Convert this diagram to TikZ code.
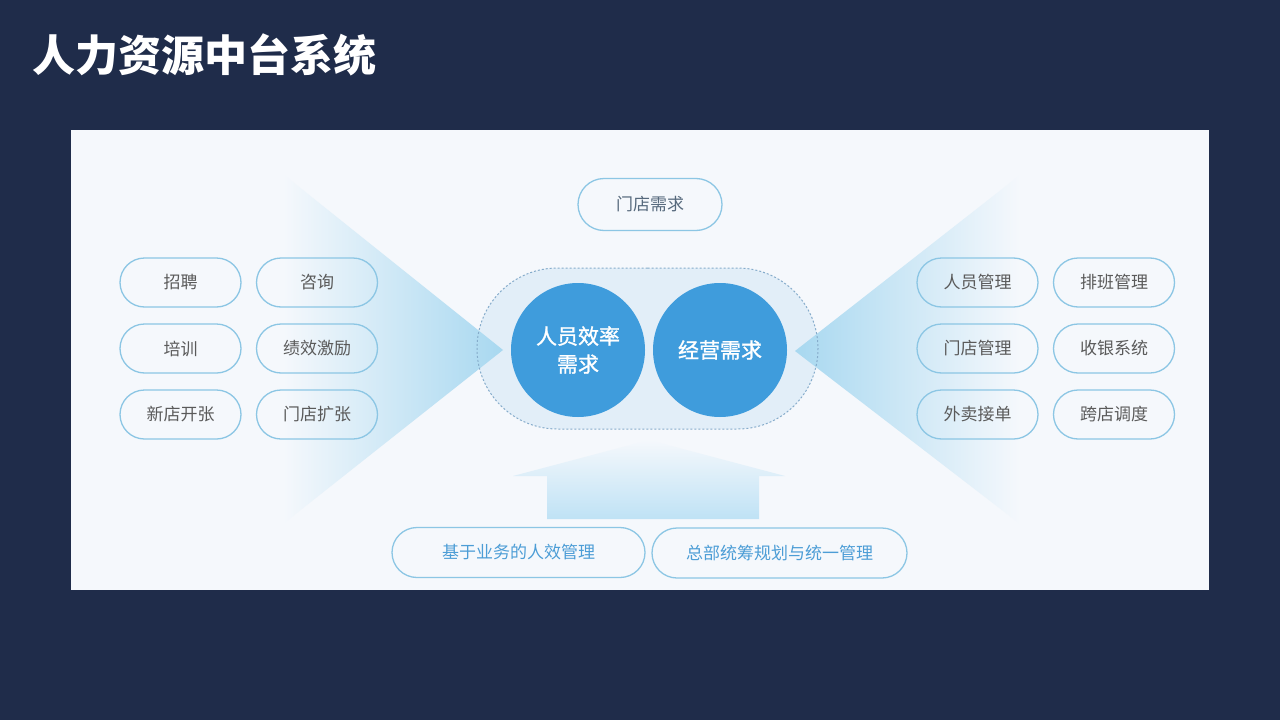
\documentclass[tikz,border=0pt]{standalone}
\usepackage{fontspec}
\setmainfont{Noto Sans CJK SC}
\newfontfamily\cjkmed[FakeBold=1.2]{Noto Sans CJK SC}
\usetikzlibrary{shapes.misc}
\definecolor{bgnavy}{HTML}{1F2C4A}
\definecolor{panel}{HTML}{F5F8FC}
\definecolor{pillline}{HTML}{8CC6E4}
\definecolor{pilltext}{HTML}{5A5A5A}
\definecolor{toptext}{HTML}{56697C}
\definecolor{bottext}{HTML}{4C9DD6}
\definecolor{circ}{HTML}{3F9CDC}
\definecolor{capfill}{HTML}{E2EEF8}
\definecolor{capline}{HTML}{86ACCB}
\definecolor{triblue}{HTML}{A8D8F0}
\definecolor{arrowblue}{HTML}{BFE2F5}
\begin{document}
\begin{tikzpicture}[x=1pt,y=-1pt,
  pill/.style={shape=rounded rectangle, draw=pillline, line width=1.3pt,
    minimum width=121pt, minimum height=49pt, inner sep=0pt,
    text=pilltext, font=\fontsize{17}{20}\selectfont},
  bigcirc/.style={circle, fill=circ, minimum size=134pt, inner sep=0pt,
    text=white, align=center, font=\cjkmed\fontsize{21}{28}\selectfont}]
\useasboundingbox (0,0) rectangle (1280,720);
\fill[bgnavy] (0,0) rectangle (1280,720);
\node[anchor=west, text=white, inner sep=0pt,
  font=\fontsize{43}{48}\selectfont\bfseries] (title) at (32,55) {人力资源中台系统};
\fill[panel] (71,130) rectangle (1209,590);

% capsule fill
\node[shape=rounded rectangle, fill=capfill, minimum width=341pt,
  minimum height=161pt, inner sep=0pt] (cap) at (647.5,348.5) {};

% funnels
\shade[left color=panel, right color=triblue] (283,174) -- (503,350) -- (283,524) -- cycle;
\shade[left color=triblue, right color=panel] (795,351) -- (1020,175) -- (1020,524) -- cycle;

% capsule dashed border
\node[shape=rounded rectangle, draw=capline, line width=1pt,
  dash pattern=on 2pt off 2pt, minimum width=341pt,
  minimum height=161pt, inner sep=0pt] (capb) at (647.5,348.5) {};

% circles
\node[bigcirc] (eff) at (578,350) {人员效率\\需求};
\node[bigcirc] (ops) at (720,350) {经营需求};

% up arrow
\shade[top color=panel, bottom color=arrowblue]
  (547,519) -- (547,476) -- (513,476) -- (649,440) -- (785,476)
  -- (759,476) -- (759,519) -- cycle;

% top pill
\node[pill, minimum width=144pt, minimum height=52pt, text=toptext] (store) at (650,204.5) {门店需求};

% left pills
\node[pill] (l1) at (180.5,282.5) {招聘};
\node[pill] (l2) at (317,282.5) {咨询};
\node[pill] (l3) at (180.5,348.5) {培训};
\node[pill] (l4) at (317,348.5) {绩效激励};
\node[pill] (l5) at (180.5,414.5) {新店开张};
\node[pill] (l6) at (317,414.5) {门店扩张};

% right pills
\node[pill] (r1) at (977.5,282.5) {人员管理};
\node[pill] (r2) at (1114,282.5) {排班管理};
\node[pill] (r3) at (977.5,348.5) {门店管理};
\node[pill] (r4) at (1114,348.5) {收银系统};
\node[pill] (r5) at (977.5,414.5) {外卖接单};
\node[pill] (r6) at (1114,414.5) {跨店调度};

% bottom pills
\node[pill, minimum width=253pt, minimum height=50pt, text=bottext] (b1) at (518.5,552.5) {基于业务的人效管理};
\node[pill, minimum width=255pt, minimum height=50pt, text=bottext] (b2) at (779.5,553) {总部统筹规划与统一管理};
\end{tikzpicture}
\end{document}
